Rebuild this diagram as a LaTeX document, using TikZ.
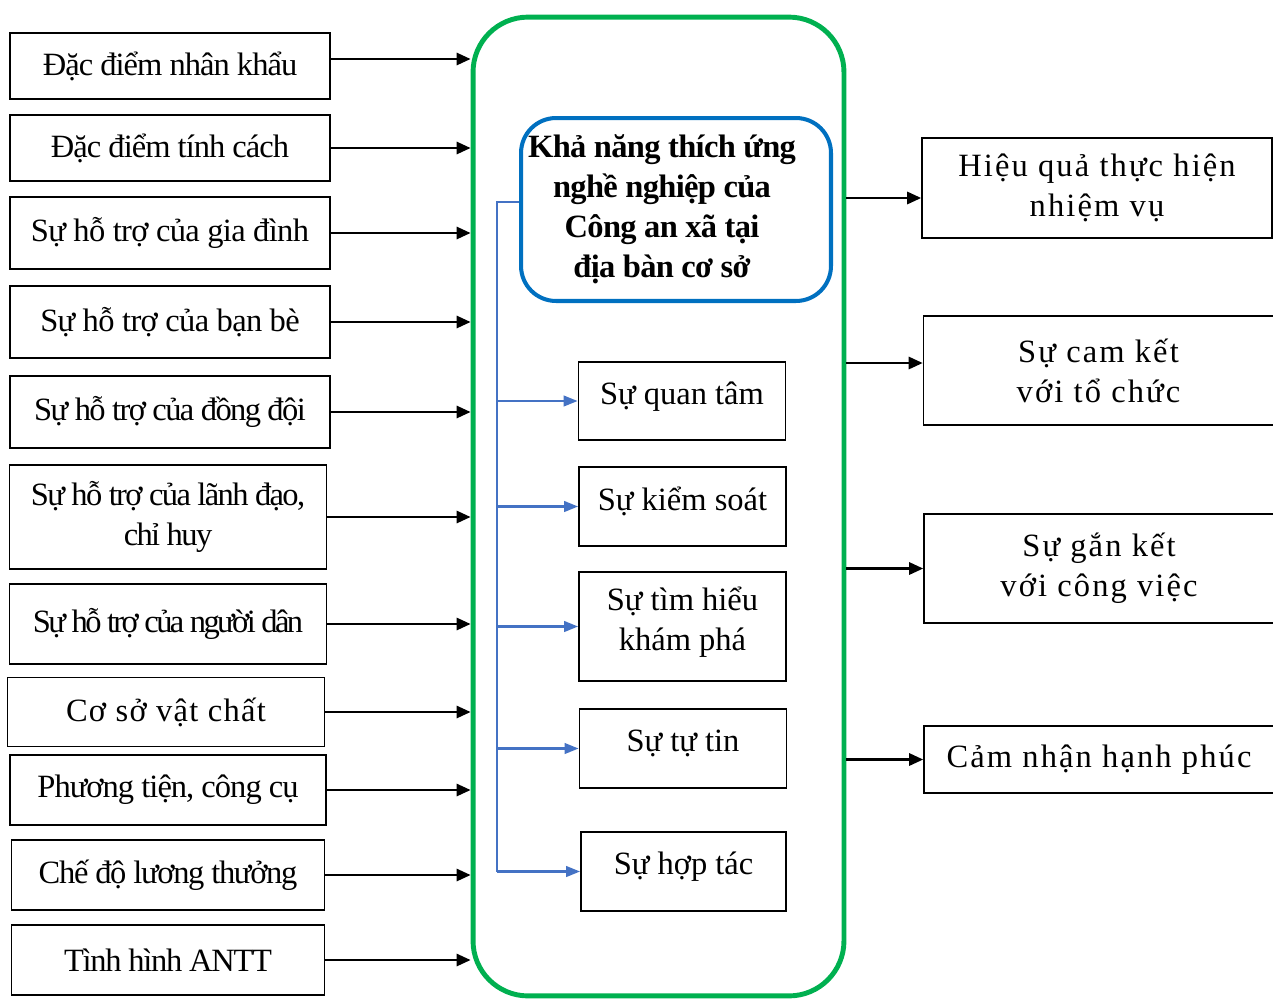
\documentclass[tikz,border=0pt]{standalone}
\usepackage{fontspec}
\setmainfont{Liberation Serif}
\usetikzlibrary{arrows.meta}
\definecolor{framegreen}{RGB}{0,176,80}
\definecolor{titleblue}{RGB}{0,112,192}
\definecolor{branchblue}{RGB}{68,114,196}

\begin{document}
\begin{tikzpicture}[x=0.02cm,y=-0.02cm,
	tracking/.style={font=\fontsize{18.5}{22.8}\selectfont\addfontfeature{LetterSpace=#1}},
	factor/.style={draw,line width=1pt,minimum width=6.4cm,align=center,tracking=#1},
	factor/.default=0,
	facet/.style={draw,line width=1pt,minimum width=4.14cm,minimum height=1.58cm,align=center,text depth=9pt,tracking=0},
	outcome/.style={draw,line width=1pt,minimum width=7cm,align=center,tracking=6.5},
	feed/.style={-{Triangle[length=8pt,width=7pt]},line width=1.3pt},
	branch/.style={branchblue,line width=1.4pt},
	tip/.style={-{Triangle[length=8pt,width=6pt]}}]
	\useasboundingbox (0,0) rectangle (1273,1001);

	% Green frame and the central concept
	\node[draw=framegreen,line width=2.8pt,rounded corners=1.1cm,minimum width=7.42cm,minimum height=19.58cm] (frame) at (658.5,506.5) {};
	\node[draw=titleblue,line width=2.3pt,rounded corners=0.7cm,minimum width=6.2cm,minimum height=3.66cm,font=\bfseries\fontsize{18.5}{22.8}\selectfont\addfontfeature{LetterSpace=-2}] (title) at (676,209.5)
		{\begin{tabular}{@{}c@{\hspace{0.56cm}}}Khả năng thích ứng\\nghề nghiệp của\\Công an xã tại\\địa bàn cơ sở\end{tabular}};

	% Left column: factors
	\node[factor=-3,minimum height=1.32cm] (nhankhau) at (170,66) {Đặc điểm nhân khẩu};
	\node[factor=-3,minimum height=1.32cm] (tinhcach) at (170,148) {Đặc điểm tính cách};
	\node[factor=-2,minimum height=1.44cm] (giadinh) at (170,233) {Sự hỗ trợ của gia đình};
	\node[factor=-2,minimum height=1.44cm] (banbe) at (170,322) {Sự hỗ trợ của bạn bè};
	\node[factor=-5,minimum height=1.44cm] (dongdoi) at (170,412) {Sự hỗ trợ của đồng đội};
	\node[factor=-5,minimum width=6.34cm,minimum height=2.08cm] (lanhdao) at (168,517) {Sự hỗ trợ của lãnh đạo,\\chỉ huy};
	\node[factor=-8,minimum width=6.34cm,minimum height=1.6cm] (nguoidan) at (168,624) {Sự hỗ trợ của người dân};
	\node[factor=4,minimum width=6.34cm,minimum height=1.38cm] (vatchat) at (166,712) {Cơ sở vật chất};
	\node[factor=-3,minimum width=6.32cm,minimum height=1.4cm] (phuongtien) at (168,790) {Phương tiện, công cụ};
	\node[factor=-4,minimum width=6.26cm,minimum height=1.4cm] (luong) at (168,875) {Chế độ lương thưởng};
	\node[factor=-4,minimum width=6.26cm,minimum height=1.4cm] (antt) at (168,960) {Tình hình ANTT};

	% Arrows into the frame
	\draw[feed] ([yshift=0.14cm]nhankhau.east) -- ([yshift=0.14cm]nhankhau.east -| frame.west);
	\draw[feed] (tinhcach.east) -- (tinhcach.east -| frame.west);
	\draw[feed] (giadinh.east) -- (giadinh.east -| frame.west);
	\draw[feed] (banbe.east) -- (banbe.east -| frame.west);
	\draw[feed] (dongdoi.east) -- (dongdoi.east -| frame.west);
	\draw[feed] (lanhdao.east) -- (lanhdao.east -| frame.west);
	\draw[feed] (nguoidan.east) -- (nguoidan.east -| frame.west);
	\draw[feed] (vatchat.east) -- (vatchat.east -| frame.west);
	\draw[feed] (phuongtien.east) -- (phuongtien.east -| frame.west);
	\draw[feed] (luong.east) -- (luong.east -| frame.west);
	\draw[feed] (antt.east) -- (antt.east -| frame.west);

	% Components inside the frame
	\node[facet,minimum height=1.56cm] (quantam) at (682,401) {Sự quan tâm};
	\node[facet] (kiemsoat) at (682.5,506.5) {Sự kiểm soát};
	\node[facet,minimum height=2.18cm] (timhieu) at (682.5,626.5) {Sự tìm hiểu\\khám phá};
	\node[facet] (tutin) at (683,748.5) {Sự tự tin};
	\node[facet,minimum width=4.1cm] (hoptac) at (683.5,871.5) {Sự hợp tác};

	% Blue branches
	\coordinate (spinetop) at (497,202);
	\draw[branch] (title.west |- spinetop) -- (spinetop) -- (spinetop |- hoptac.west);
	\draw[branch,tip] (spinetop |- quantam.west) -- (quantam.west);
	\draw[branch,tip] (spinetop |- kiemsoat.west) -- (kiemsoat.west);
	\draw[branch,tip] (spinetop |- timhieu.west) -- (timhieu.west);
	\draw[branch,tip] (spinetop |- tutin.west) -- (tutin.west);
	\draw[branch,tip] (spinetop |- hoptac.west) -- (hoptac.west);

	% Right column: outcomes
	\node[outcome,minimum height=2cm] (hieuqua) at (1097,188) {Hiệu quả thực hiện\\nhiệm vụ};
	\node[outcome,minimum height=2.18cm] (camket) at (1098.5,370.5) {Sự cam kết\\với tổ chức};
	\node[outcome,minimum height=2.18cm] (ganket) at (1099,568.5) {Sự gắn kết\\với công việc};
	\node[outcome,minimum height=1.34cm] (hanhphuc) at (1099,759.5) {Cảm nhận hạnh phúc};

	% Arrows out of the frame
	\draw[feed] ([yshift=-0.2cm]hieuqua.west -| frame.east) -- ([yshift=-0.2cm]hieuqua.west);
	\draw[feed] ([yshift=0.15cm]camket.west -| frame.east) -- ([yshift=0.15cm]camket.west);
	\draw[feed] (ganket.west -| frame.east) -- (ganket.west);
	\draw[feed] (hanhphuc.west -| frame.east) -- (hanhphuc.west);
\end{tikzpicture}
\end{document}
